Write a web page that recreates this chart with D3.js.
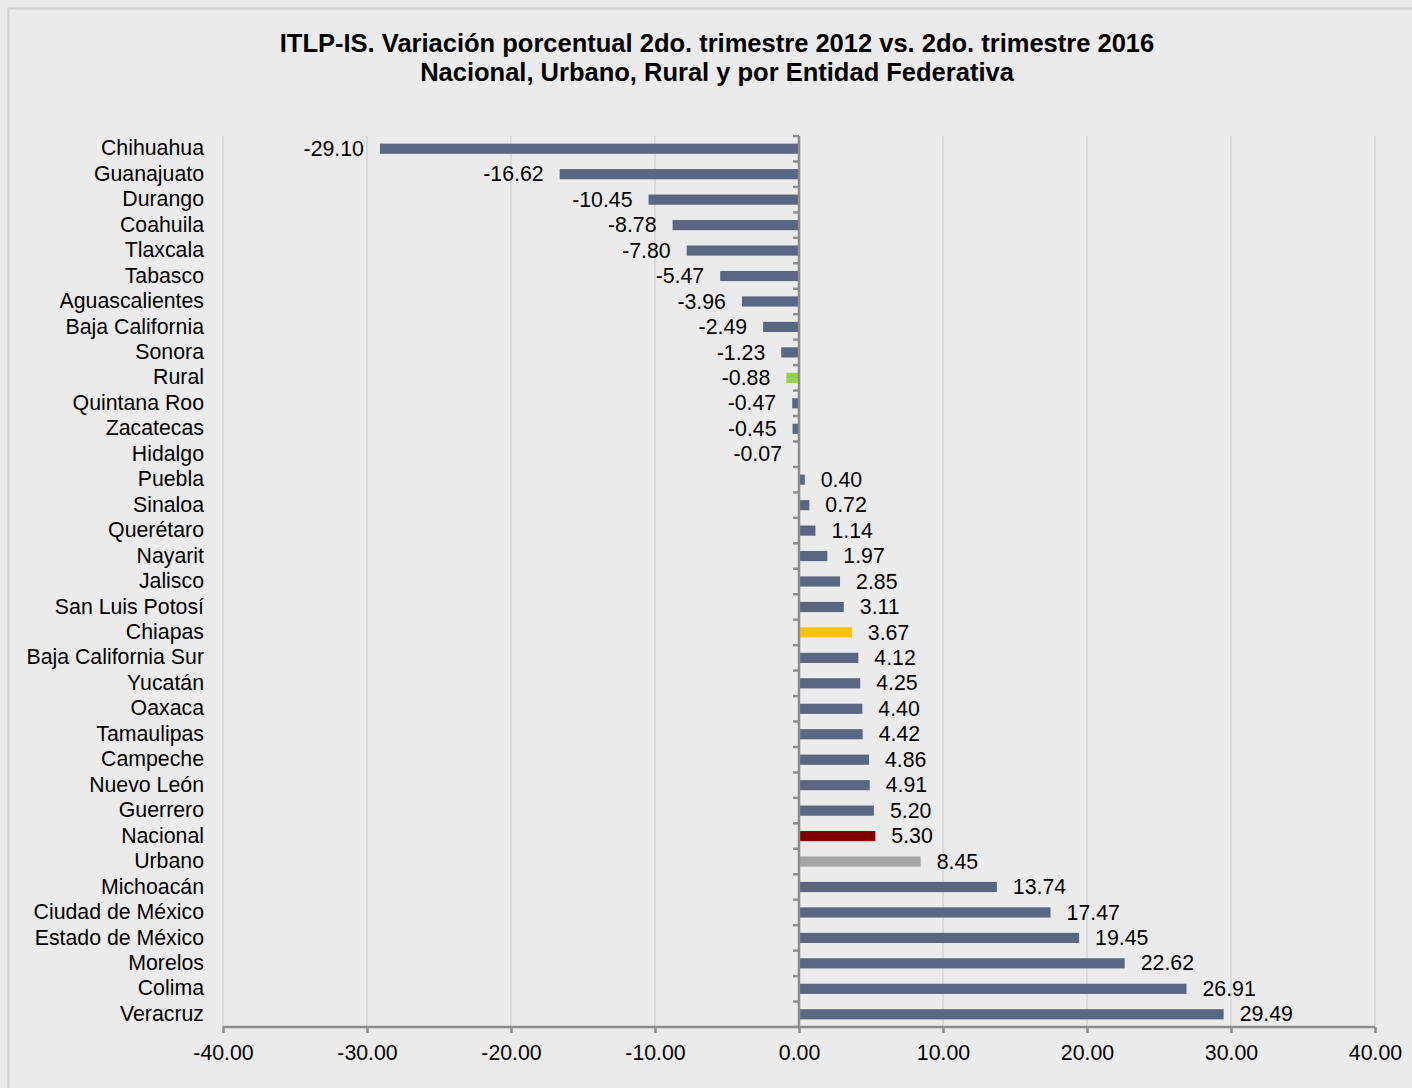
<!DOCTYPE html>
<html>
<head>
<meta charset="utf-8">
<script src="https://cdn.jsdelivr.net/npm/d3@7"></script>
<style>
  html, body { margin: 0; padding: 0; background: #ebebeb; }
  svg { display: block; font-family: "Liberation Sans", Arial, sans-serif; }
</style>
</head>
<body>
<svg id="chart" width="1412" height="1088"></svg>
<script>
const titleLines = [
  "ITLP-IS. Variación porcentual 2do. trimestre 2012 vs. 2do. trimestre 2016",
  "Nacional, Urbano, Rural y por Entidad Federativa"
];
const categories = [
  "Chihuahua","Guanajuato","Durango","Coahuila","Tlaxcala","Tabasco","Aguascalientes",
  "Baja California","Sonora","Rural","Quintana Roo","Zacatecas","Hidalgo","Puebla",
  "Sinaloa","Querétaro","Nayarit","Jalisco","San Luis Potosí","Chiapas",
  "Baja California Sur","Yucatán","Oaxaca","Tamaulipas","Campeche","Nuevo León",
  "Guerrero","Nacional","Urbano","Michoacán","Ciudad de México","Estado de México",
  "Morelos","Colima","Veracruz"
];
const values = [
  -29.10,-16.62,-10.45,-8.78,-7.80,-5.47,-3.96,
  -2.49,-1.23,-0.88,-0.47,-0.45,-0.07,0.40,
  0.72,1.14,1.97,2.85,3.11,3.67,
  4.12,4.25,4.40,4.42,4.86,4.91,
  5.20,5.30,8.45,13.74,17.47,19.45,
  22.62,26.91,29.49
];
const highlightCats = ["Rural","Chiapas","Nacional","Urbano"];
const highlightColors = ["#92d050","#ffc000","#800000","#a6a6a6"];
const xTicks = [-40,-30,-20,-10,0,10,20,30,40];

const defaultColor = "#5a6782";
const data = categories.map((c, i) => ({ cat: c, v: values[i] }));
const colorOf = c => {
  const k = highlightCats.indexOf(c);
  return k >= 0 ? highlightColors[k] : defaultColor;
};
const fmt = v => d3.format(".2f")(v).replace("\u2212", "-");

const svg = d3.select("#chart");
const FS = 21.3;

// outer border
svg.append("rect")
  .attr("x", 8.5).attr("y", 8.5).attr("width", 1440).attr("height", 1120)
  .attr("fill", "#ebebeb").attr("stroke", "#d0d0d0").attr("stroke-width", 2);

// title
svg.append("g").selectAll("text").data(titleLines).join("text")
  .attr("x", 717).attr("y", (d, i) => 45 + i * 29)
  .attr("text-anchor", "middle").attr("dominant-baseline", "middle")
  .attr("font-weight", "bold").attr("font-size", 25.5).attr("fill", "#000")
  .text(d => d);

const x = d3.scaleLinear().domain([-40, 40]).range([223, 1375]);
const plotTop = 136, plotBottom = 1027;
const y = d3.scaleBand().domain(categories).range([plotTop, plotBottom])
  .paddingInner(0.6).paddingOuter(0.3);

// gridlines
svg.append("g").selectAll("line").data(xTicks.filter(t => t !== 0)).join("line")
  .attr("x1", d => x(d)).attr("x2", d => x(d))
  .attr("y1", plotTop).attr("y2", plotBottom)
  .attr("stroke", "#d9d9d9").attr("stroke-width", 2);

// bars
svg.append("g").selectAll("rect").data(data).join("rect")
  .attr("x", d => Math.min(x(0), x(d.v)))
  .attr("y", d => y(d.cat))
  .attr("width", d => Math.abs(x(d.v) - x(0)))
  .attr("height", y.bandwidth())
  .attr("fill", d => colorOf(d.cat));

// value labels
svg.append("g").selectAll("text").data(data).join("text")
  .attr("x", d => d.v >= 0 ? x(d.v) + 16 : x(d.v) - 16)
  .attr("y", d => y(d.cat) + y.bandwidth() / 2 + 1.5)
  .attr("text-anchor", d => d.v >= 0 ? "start" : "end")
  .attr("dominant-baseline", "middle")
  .attr("font-size", FS).attr("fill", "#000")
  .text(d => fmt(d.v));

// category labels
svg.append("g").selectAll("text").data(data).join("text")
  .attr("x", 204).attr("y", d => y(d.cat) + y.bandwidth() / 2 + 1)
  .attr("text-anchor", "end").attr("dominant-baseline", "middle")
  .attr("font-size", FS).attr("fill", "#000")
  .text(d => d.cat);

// category axis at zero with ticks at band boundaries
const boundaries = categories.map(c => y(c) - y.step() * y.paddingInner() / 2);
boundaries.push(plotBottom);
const catAxis = svg.append("g");
catAxis.selectAll("line.tick").data(boundaries).join("line")
  .attr("class", "tick")
  .attr("x1", x(0) - 6).attr("x2", x(0))
  .attr("y1", d => d).attr("y2", d => d)
  .attr("stroke", "#8c8c8c").attr("stroke-width", 2.5);
catAxis.append("line")
  .attr("x1", x(0)).attr("x2", x(0))
  .attr("y1", plotTop).attr("y2", plotBottom)
  .attr("stroke", "#8c8c8c").attr("stroke-width", 2.5);

// x axis
const xAxis = d3.axisBottom(x).tickValues(xTicks).tickSize(6).tickPadding(12)
  .tickFormat(fmt);
const gx = svg.append("g").attr("transform", `translate(0,${plotBottom})`).call(xAxis);
gx.select(".domain").attr("stroke", "#8c8c8c").attr("stroke-width", 2.5)
  .attr("d", `M${x(-40)},0H${x(40)}`);
gx.selectAll(".tick line").attr("stroke", "#8c8c8c").attr("stroke-width", 2.5);
gx.selectAll(".tick text").attr("font-size", FS).attr("fill", "#000")
  .attr("font-family", "Liberation Sans, Arial, sans-serif");
</script>
</body>
</html>
